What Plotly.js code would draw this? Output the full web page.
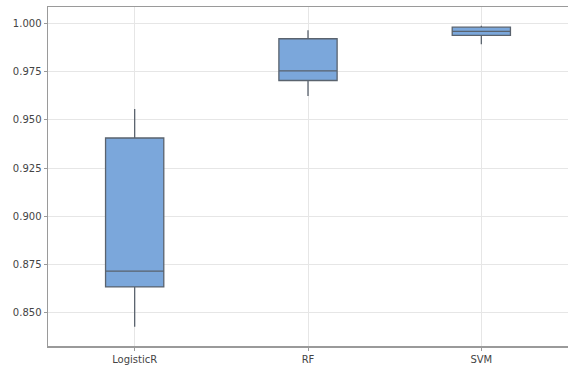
<!DOCTYPE html>
<html>
<head>
<meta charset="utf-8">
<script src="https://cdn.plot.ly/plotly-3.0.1.min.js"></script>
<style>html,body{margin:0;padding:0;background:#fff;}#chart{width:568px;height:368px;}</style>
</head>
<body>
<div id="chart"></div>
<script>
var categories = ["LogisticR", "RF", "SVM"];
var lowerWhisker = [0.8425, 0.9624, 0.9894];
var q1Values = [0.8632, 0.9705, 0.9940];
var medianValues = [0.8714, 0.9755, 0.9960];
var q3Values = [0.9406, 0.9922, 0.9982];
var upperWhisker = [0.9557, 0.9966, 0.9989];
var yTickValues = [0.850, 0.875, 0.900, 0.925, 0.950, 0.975, 1.000];
var yTickLabels = ["0.850", "0.875", "0.900", "0.925", "0.950", "0.975", "1.000"];

var trace = {
  type: "box",
  x: categories,
  q1: q1Values,
  median: medianValues,
  q3: q3Values,
  lowerfence: lowerWhisker,
  upperfence: upperWhisker,
  fillcolor: "#7BA7DB",
  line: {color: "#5a636e", width: 1.3},
  whiskerwidth: 0,
  width: 0.336,
  boxpoints: false,
  hoverinfo: "skip",
  showlegend: false
};

var layout = {
  width: 568,
  height: 368,
  margin: {l: 48, r: 0, t: 7, b: 22},
  paper_bgcolor: "#ffffff",
  plot_bgcolor: "#ffffff",
  font: {family: "DejaVu Sans, sans-serif", size: 10, color: "#444"},
  xaxis: {
    type: "category",
    range: [-0.5, 2.5],
    showgrid: true,
    gridcolor: "#e6e6e6",
    gridwidth: 1,
    showline: true,
    linecolor: "#9a9a9a",
    linewidth: 1.5,
    mirror: true,
    ticks: "outside",
    ticklen: 3,
    tickcolor: "#9a9a9a",
    zeroline: false,
    tickfont: {family: "DejaVu Sans, sans-serif", size: 10, color: "#444"}
  },
  yaxis: {
    range: [0.8325, 1.0087],
    tickvals: yTickValues,
    ticktext: yTickLabels,
    showgrid: true,
    gridcolor: "#e6e6e6",
    gridwidth: 1,
    showline: true,
    linecolor: "#9a9a9a",
    linewidth: 1.5,
    ticks: "outside",
    ticklen: 3,
    tickcolor: "#9a9a9a",
    zeroline: false,
    tickfont: {family: "DejaVu Sans, sans-serif", size: 10, color: "#444"}
  }
};

Plotly.newPlot("chart", [trace], layout, {displayModeBar: false, staticPlot: true});
</script>
</body>
</html>
